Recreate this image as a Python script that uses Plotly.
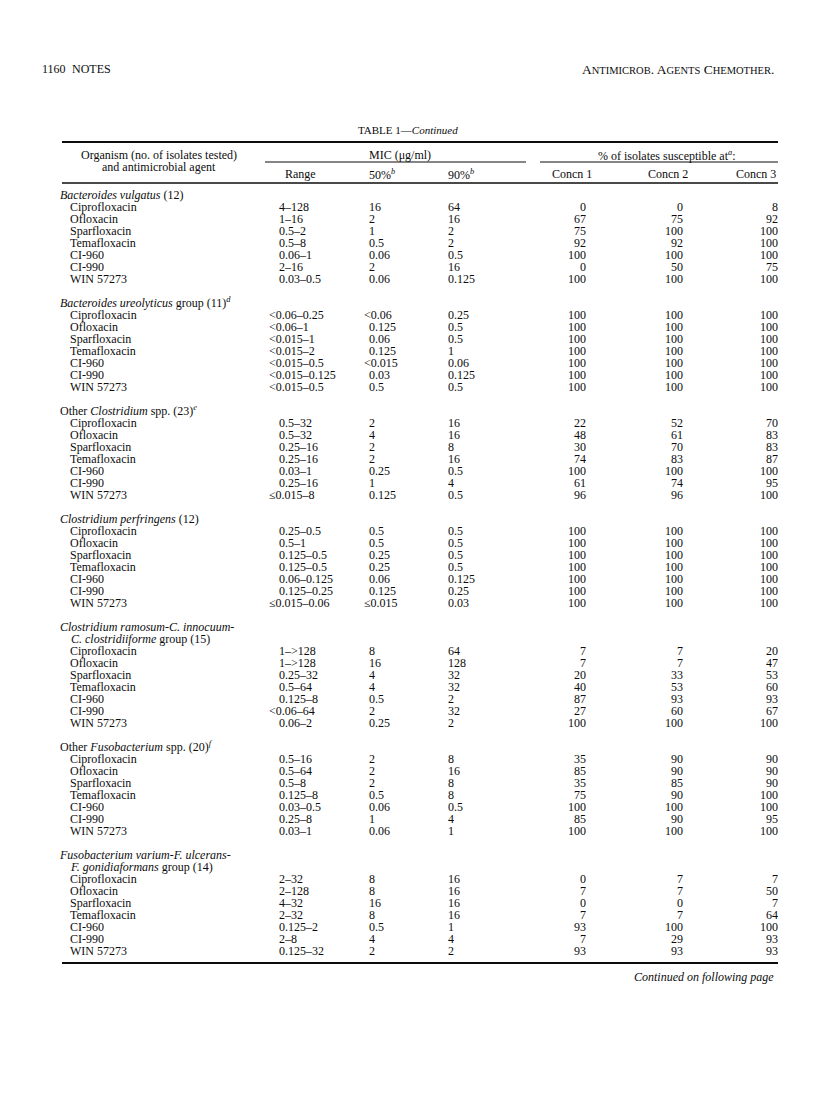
import plotly.graph_objects as go

W, H = 816, 1103

IS = "<sup style='font-style:italic'>{}</sup>"  # italic superscript footnote mark

# ---------------- data ----------------
group_titles = [
    ["<i>Bacteroides vulgatus</i> (12)"],
    ["<i>Bacteroides ureolyticus</i> group (11)" + IS.format("d")],
    ["Other <i>Clostridium</i> spp. (23)" + IS.format("e")],
    ["<i>Clostridium perfringens</i> (12)"],
    ["<i>Clostridium ramosum-C. innocuum-</i>", "<i>C. clostridiiforme</i> group (15)"],
    ["Other <i>Fusobacterium</i> spp. (20)" + IS.format("f")],
    ["<i>Fusobacterium varium-F. ulcerans-</i>", "<i>F. gonidiaformans</i> group (14)"],
]
agents = ["Ciprofloxacin", "Ofloxacin", "Sparfloxacin", "Temafloxacin",
          "CI-960", "CI-990", "WIN 57273"]

mic_range = [
    "4–128", "1–16", "0.5–2", "0.5–8", "0.06–1", "2–16", "0.03–0.5",
    "<0.06–0.25", "<0.06–1", "<0.015–1", "<0.015–2", "<0.015–0.5", "<0.015–0.125", "<0.015–0.5",
    "0.5–32", "0.5–32", "0.25–16", "0.25–16", "0.03–1", "0.25–16", "≤0.015–8",
    "0.25–0.5", "0.5–1", "0.125–0.5", "0.125–0.5", "0.06–0.125", "0.125–0.25", "≤0.015–0.06",
    "1–>128", "1–>128", "0.25–32", "0.5–64", "0.125–8", "<0.06–64", "0.06–2",
    "0.5–16", "0.5–64", "0.5–8", "0.125–8", "0.03–0.5", "0.25–8", "0.03–1",
    "2–32", "2–128", "4–32", "2–32", "0.125–2", "2–8", "0.125–32",
]
mic50 = [
    "16", "2", "1", "0.5", "0.06", "2", "0.06",
    "<0.06", "0.125", "0.06", "0.125", "<0.015", "0.03", "0.5",
    "2", "4", "2", "2", "0.25", "1", "0.125",
    "0.5", "0.5", "0.25", "0.25", "0.06", "0.125", "≤0.015",
    "8", "16", "4", "4", "0.5", "2", "0.25",
    "2", "2", "2", "0.5", "0.06", "1", "0.06",
    "8", "8", "16", "8", "0.5", "4", "2",
]
mic90 = [
    "64", "16", "2", "2", "0.5", "16", "0.125",
    "0.25", "0.5", "0.5", "1", "0.06", "0.125", "0.5",
    "16", "16", "8", "16", "0.5", "4", "0.5",
    "0.5", "0.5", "0.5", "0.5", "0.125", "0.25", "0.03",
    "64", "128", "32", "32", "2", "32", "2",
    "8", "16", "8", "8", "0.5", "4", "1",
    "16", "16", "16", "16", "1", "4", "2",
]
concn1 = [
    0, 67, 75, 92, 100, 0, 100,
    100, 100, 100, 100, 100, 100, 100,
    22, 48, 30, 74, 100, 61, 96,
    100, 100, 100, 100, 100, 100, 100,
    7, 7, 20, 40, 87, 27, 100,
    35, 85, 35, 75, 100, 85, 100,
    0, 7, 0, 7, 93, 7, 93,
]
concn2 = [
    0, 75, 100, 92, 100, 50, 100,
    100, 100, 100, 100, 100, 100, 100,
    52, 61, 70, 83, 100, 74, 96,
    100, 100, 100, 100, 100, 100, 100,
    7, 7, 33, 53, 93, 60, 100,
    90, 90, 85, 90, 100, 90, 100,
    7, 7, 0, 7, 100, 29, 93,
]
concn3 = [
    8, 92, 100, 100, 100, 75, 100,
    100, 100, 100, 100, 100, 100, 100,
    70, 83, 83, 87, 100, 95, 100,
    100, 100, 100, 100, 100, 100, 100,
    20, 47, 53, 60, 93, 67, 100,
    90, 90, 90, 100, 100, 95, 100,
    7, 50, 7, 64, 100, 93, 93,
]
col_headers = ["Range", "50%" + IS.format("b"), "90%" + IS.format("b"),
               "Concn 1", "Concn 2", "Concn 3"]

# ---------------- layout computation ----------------
FONT = "Liberation Serif"
INK = "#0c0c0c"
FS = 12
ROW = 12.0
y = 196.0
title_x, title_y, title_t = [], [], []
row_y, agent_t = [], []
for g, titles in enumerate(group_titles):
    for k, t in enumerate(titles):
        title_x.append(62 if k == 0 else 73)
        title_y.append(y)
        title_t.append(t)
        y += ROW
    for a in agents:
        row_y.append(y)
        agent_t.append(a)
        y += ROW
    y += ROW  # blank line between groups

fig = go.Figure()

def text_trace(xs, ys, texts, pos):
    fig.add_trace(go.Scatter(
        x=xs, y=ys, text=texts, mode="text",
        textposition=pos, hoverinfo="skip", showlegend=False,
        textfont=dict(family=FONT, size=FS, color=INK)))

def hang(base, texts, d):
    # values carrying a "<" or "≤" qualifier hang into the left margin
    return [base - d if t[0] in "<≤" else base for t in texts]

n = len(row_y)
text_trace([x - 2 for x in title_x], title_y, title_t, "middle right")
text_trace([70] * n, row_y, agent_t, "middle right")
text_trace(hang(279, mic_range, 10), row_y, mic_range, "middle right")
text_trace(hang(369, mic50, 5), row_y, mic50, "middle right")
text_trace([448] * n, row_y, mic90, "middle right")
text_trace([586] * n, row_y, [str(v) for v in concn1], "middle left")
text_trace([683] * n, row_y, [str(v) for v in concn2], "middle left")
text_trace([778] * n, row_y, [str(v) for v in concn3], "middle left")

ann = []
def A(x, yy, t, xanchor="center", size=FS, **kw):
    ann.append(dict(x=x, y=yy, xref="x", yref="y", text=t, showarrow=False,
                    xanchor=xanchor, yanchor="middle",
                    font=dict(family=FONT, size=size, color=INK), **kw))

# page header
A(40, 69, "1160", "left", 12)
A(70, 69, "NOTES", "left", 12)
sc = "font-size:10.5px"
A(776, 69, f"A<span style='{sc}'>NTIMICROB</span>. A<span style='{sc}'>GENTS</span> "
            f"C<span style='{sc}'>HEMOTHER</span>.", "right", 13.5)
A(408, 130, "TABLE 1—<i>Continued</i>", "center", 11)

# column headers
A(159, 155, "Organism (no. of isolates tested)", "center")
A(159, 167, "and antimicrobial agent", "center")
A(400, 155, "MIC (μg/ml)", "center")
A(667, 155, "% of isolates susceptible at" + IS.format("a") + ":", "center")
hdr_x = [300, 382, 461, 594, 690, 778]
hdr_anchor = ["center", "center", "center", "right", "right", "right"]
for hx, ha, ht in zip(hdr_x, hdr_anchor, col_headers):
    A(hx, 174, ht, ha)
A(776, 977, "<i>Continued on following page</i>", "right", 12)

shapes = []
def L(x0, x1, yy, w):
    shapes.append(dict(type="line", xref="x", yref="y", x0=x0, x1=x1, y0=yy, y1=yy,
                       line=dict(color=INK, width=w)))
L(62, 778, 142, 1.8)
L(265, 526, 162, 1.0)
L(540, 778, 162, 1.0)
L(62, 778, 183, 1.6)
L(62, 778, 963, 1.8)

# the page body adds an 8px margin around the plot; shift the axes so
# axis units correspond to page pixels
OFF = 8
fig.update_layout(
    width=W, height=H, margin=dict(l=0, r=0, t=0, b=0),
    paper_bgcolor="white", plot_bgcolor="white",
    xaxis=dict(range=[OFF, W + OFF], visible=False, fixedrange=True),
    yaxis=dict(range=[H + OFF, OFF], visible=False, fixedrange=True),
    annotations=ann, shapes=shapes,
)
fig.write_html("out.html")
